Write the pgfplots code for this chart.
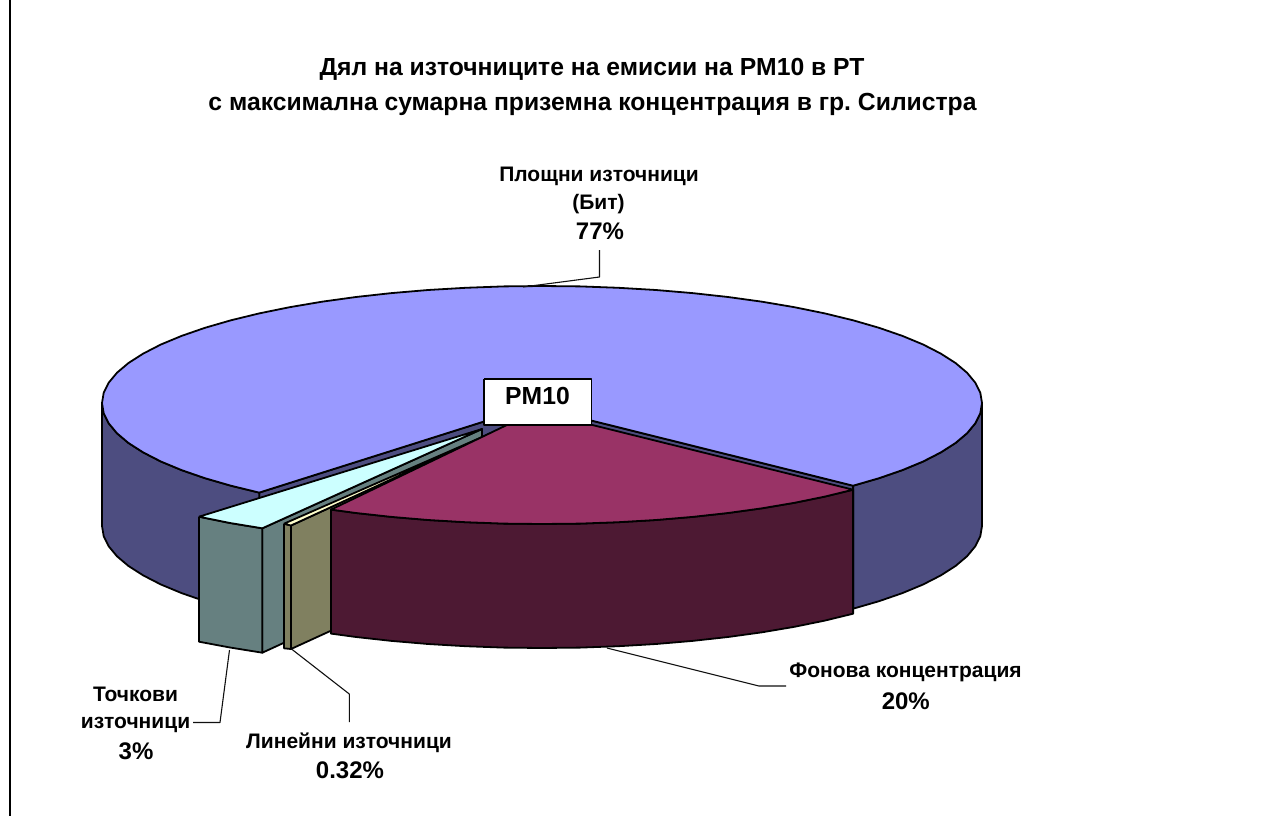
\documentclass[border=0pt]{standalone}
\usepackage{pgfplots}
\pgfplotsset{compat=1.18}
\usepackage{fontspec}
\setmainfont{Liberation Sans}
\frenchspacing
\definecolor{bluetop}{HTML}{9999FF}
\definecolor{blueside}{HTML}{4D4D80}
\definecolor{redtop}{HTML}{993366}
\definecolor{redside}{HTML}{4D1933}
\definecolor{cyantop}{HTML}{CCFFFF}
\definecolor{tealside}{HTML}{668080}
\definecolor{yellowtop}{HTML}{FFFFCC}
\definecolor{oliveside}{HTML}{808060}
\definecolor{leader}{HTML}{101010}
\tikzset{
  lab/.style={anchor=base,inner sep=0pt,font=\bfseries\fontsize{21}{24}\selectfont},
  pct/.style={anchor=base,inner sep=0pt,font=\bfseries\fontsize{24}{28}\selectfont},
  ttl/.style={anchor=base,inner sep=0pt,font=\bfseries\fontsize{24.7}{28}\selectfont},
}
\begin{document}
\begin{tikzpicture}
\path[use as bounding box] (0,0) rectangle (1288pt,816pt);
\begin{axis}[
  at={(0,0)},anchor=south west,
  width=1288pt,height=816pt,scale only axis,
  xmin=0,xmax=1288,ymin=0,ymax=816,y dir=reverse,
  axis lines=none,
  no marks,
  every axis plot/.append style={line join=round,line width=1.8pt},
]
% left rule
\addplot[black,line width=2pt] coordinates {(10,0) (10,816)};
% blue cut walls
\addplot[fill=blueside,draw=black] coordinates {(853.1,485.7) (533,406) (533,529) (853.1,608.7) (853.1,485.7)};
\addplot[fill=blueside,draw=black] coordinates {(259.2,492.6) (533,406) (533,529) (259.2,615.6) (259.2,492.6)};
% blue outer sides
\addplot[fill=blueside,draw=black] coordinates {(853.1,485.7) (879,478.2) (902.4,470.1) (923.1,461.5) (940.8,452.4) (955.5,443) (967,433.3) (975.3,423.3) (980.3,413.2) (982,403)
 (982,526) (980.3,536.2) (975.3,546.3) (967,556.3) (955.5,566) (940.8,575.4) (923.1,584.5) (902.4,593.1) (879,601.2) (853.1,608.7) (853.1,485.7)};
\addplot[fill=blueside,draw=black] coordinates {(102,403) (103.7,413.2) (108.7,423.3) (117,433.3) (128.5,443) (143.2,452.4) (160.9,461.5) (181.6,470.1) (205,478.2) (230.9,485.7) (259.2,492.6)
 (259.2,615.6) (230.9,608.7) (205,601.2) (181.6,593.1) (160.9,584.5) (143.2,575.4) (128.5,566) (117,556.3) (108.7,546.3) (103.7,536.2) (102,526) (102,403)};
% blue top
\addplot[fill=bluetop,draw=black] coordinates {(533,406) (853.1,485.7) (879,478.2) (902.4,470.1) (923.1,461.5) (940.8,452.4) (955.5,443) (967,433.3) (975.3,423.3) (980.3,413.2) (982,403)
 (980.3,392.8) (975.3,382.7) (967,372.7) (955.5,363) (940.8,353.6) (923.1,344.5) (902.4,335.9) (879,327.8) (853.1,320.3) (824.8,313.4) (794.4,307.2) (762,301.7) (728,297) (692.5,293.1) (655.9,290) (618.4,287.8) (580.3,286.4) (542,286)
 (503.7,286.4) (465.6,287.8) (428.1,290) (391.5,293.1) (356,297) (322,301.7) (289.6,307.2) (259.2,313.4) (230.9,320.3) (205,327.8) (181.6,335.9) (160.9,344.5) (143.2,353.6) (128.5,363) (117,372.7) (108.7,382.7) (103.7,392.8) (102,403)
 (103.7,413.2) (108.7,423.3) (117,433.3) (128.5,443) (143.2,452.4) (160.9,461.5) (181.6,470.1) (205,478.2) (230.9,485.7) (259.2,492.6) (533,406)};
% point sources
\addplot[fill=tealside,draw=black] coordinates {(262.3,528.3) (482,429) (482,552) (262.3,652.7) (262.3,528.3)};
\addplot[fill=tealside,draw=black] coordinates {(199,516.7) (230,523) (262.3,528.3) (262.3,652.7) (230,647.5) (199,641.7) (199,516.7)};
\addplot[fill=cyantop,draw=black] coordinates {(199,516.7) (230,523) (262.3,528.3) (482,429) (199,516.7)};
% linear sources
\addplot[fill=oliveside,draw=black] coordinates {(291,525.5) (505,427) (505,551) (291,649) (291,525.5)};
\addplot[fill=oliveside,draw=black] coordinates {(284,523.7) (291,525.5) (291,649) (284,648.3) (284,523.7)};
\addplot[fill=yellowtop,draw=black] coordinates {(284,523.7) (291,525.5) (505,427) (284,523.7)};
% background concentration
\addplot[fill=redside,draw=black] coordinates {(853.1,489.7) (824.8,496.6) (794.4,502.8) (762,508.3) (728,513) (692.5,516.9) (655.9,520) (618.4,522.2) (580.3,523.6) (542,524) (503.7,523.6) (465.6,522.2) (428.1,520) (391.5,516.9) (356,513) (331,509.6)
 (331,633.6) (356,637) (391.5,640.9) (428.1,644) (465.6,646.2) (503.7,647.6) (542,648) (580.3,647.6) (618.4,646.2) (655.9,644) (692.5,640.9) (728,637) (762,632.3) (794.4,626.8) (824.8,620.6) (853.1,613.7) (853.1,489.7)};
\addplot[fill=redtop,draw=black] coordinates {(536,411) (853.1,489.7) (824.8,496.6) (794.4,502.8) (762,508.3) (728,513) (692.5,516.9) (655.9,520) (618.4,522.2) (580.3,523.6) (542,524) (503.7,523.6) (465.6,522.2) (428.1,520) (391.5,516.9) (356,513) (331,509.6) (536,411)};
% leaders
\addplot[leader,line width=1.1pt] coordinates {(523,287) (599.5,277) (599.5,250)};
\addplot[leader,line width=1.1pt] coordinates {(607,648) (759,686) (786,686)};
\addplot[leader,line width=1.1pt] coordinates {(229.5,650) (220,722.5) (193,722.5)};
\addplot[leader,line width=1.1pt] coordinates {(291.5,649) (349.3,694) (349.3,722)};
% PM10 box
\addplot[fill=white,draw=black,line width=1.3pt] coordinates {(484,379) (591.5,379) (591.5,425) (484,425) (484,379)};
\node[ttl] at (axis cs:537.5,404) {PM10};
% title
\node[ttl] at (axis cs:592,75.7) {Дял на източниците на емисии на PM10 в РТ};
\node[ttl] at (axis cs:592.5,110.7) {с максимална сумарна приземна концентрация в гр. Силистра};
% labels
\node[lab] at (axis cs:599,181) {Площни източници};
\node[lab] at (axis cs:598.5,209.5) {(Бит)};
\node[pct] at (axis cs:600,239) {77\%};
\node[lab] at (axis cs:905.5,677.7) {Фонова концентрация};
\node[pct] at (axis cs:905.8,709.3) {20\%};
\node[lab] at (axis cs:135.5,701) {Точкови};
\node[lab] at (axis cs:135.5,728) {източници};
\node[pct] at (axis cs:136,759) {3\%};
\node[lab] at (axis cs:349,748) {Линейни източници};
\node[pct] at (axis cs:350,778) {0.32\%};
\end{axis}
\end{tikzpicture}
\end{document}
